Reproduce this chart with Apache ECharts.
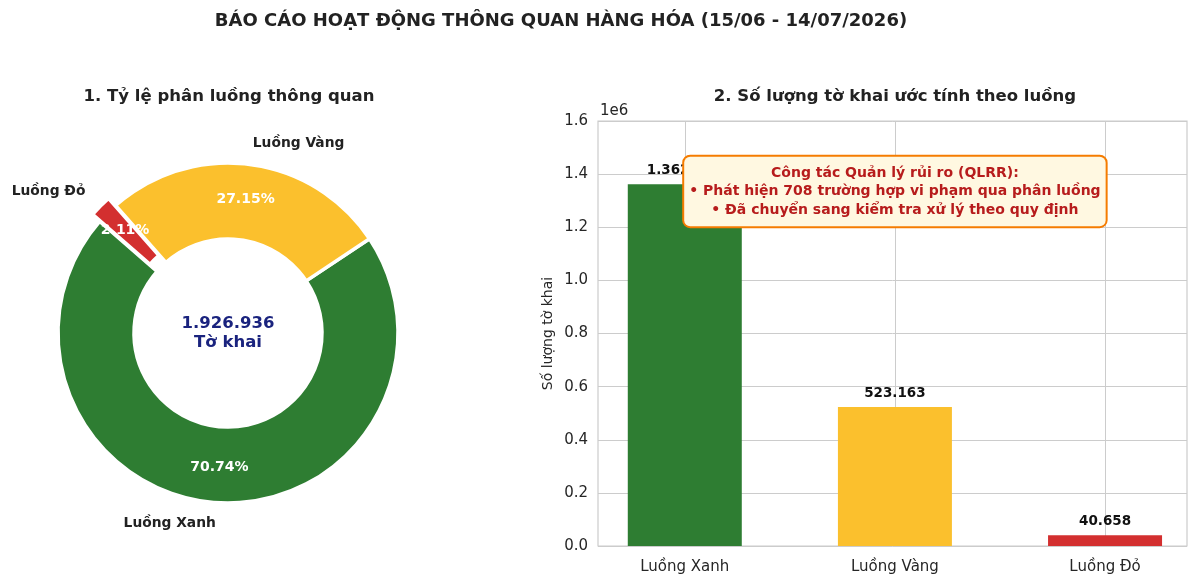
<!DOCTYPE html>
<html>
<head>
<meta charset="utf-8">
<script src="https://cdn.jsdelivr.net/npm/echarts@6/dist/echarts.min.js"></script>
<style>
html,body{margin:0;padding:0;background:#fff;}
#chart{width:1200px;height:586px;}
</style>
</head>
<body>
<div id="chart"></div>
<script>
// ---- data ----
const categories = ['Luồng Xanh', 'Luồng Vàng', 'Luồng Đỏ'];
const sharePct = [70.74, 27.15, 2.11];
const counts = [1362115, 523163, 40658];
const totalDeclarations = 1926936;
const totalUnit = 'Tờ khai';
const yTicks = [0, 200000, 400000, 600000, 800000, 1000000, 1200000, 1400000, 1600000];
const qlrrNotes = [
  'Công tác Quản lý rủi ro (QLRR):',
  '• Phát hiện 708 trường hợp vi phạm qua phân luồng',
  '• Đã chuyển sang kiểm tra xử lý theo quy định'
];
const noteAnchor = [1, 1335000];
const explodedIndex = 2;

// ---- styles ----
const colors = ['#2e7d32', '#fbc02d', '#d32f2f'];
const FONT = 'DejaVu Sans';
const fmt = n => String(n).replace(/\B(?=(\d{3})+(?!\d))/g, '.');

const pieCenter = [228, 333];
const pieRadius = [94, 170];
const startAngle = 139;
const explodeOffset = 10;

const pieData = categories.map((c, i) => ({
  name: c, value: sharePct[i], selected: i === explodedIndex,
  itemStyle: { color: colors[i] }
}));
const pieNameData = categories.map((c, i) => ({
  name: c, value: sharePct[i], selected: i === explodedIndex
}));

const option = {
  animation: false,
  backgroundColor: '#ffffff',
  textStyle: { fontFamily: FONT },
  title: [
    { text: 'BÁO CÁO HOẠT ĐỘNG THÔNG QUAN HÀNG HÓA (15/06 - 14/07/2026)',
      left: 561, top: 12, textAlign: 'center', padding: 0,
      textStyle: { fontFamily: FONT, fontSize: 18, fontWeight: 'bold', color: '#222' } },
    { text: '1. Tỷ lệ phân luồng thông quan', left: 229, top: 88, textAlign: 'center', padding: 0,
      textStyle: { fontFamily: FONT, fontSize: 16.5, fontWeight: 'bold', color: '#222' } },
    { text: '2. Số lượng tờ khai ước tính theo luồng', left: 895, top: 88, textAlign: 'center', padding: 0,
      textStyle: { fontFamily: FONT, fontSize: 16.5, fontWeight: 'bold', color: '#222' } },
    { text: '1e6', left: 600, top: 104, padding: 0,
      textStyle: { fontFamily: FONT, fontSize: 15, fontWeight: 'normal', color: '#262626' } }
  ],
  grid: { left: 598, right: 13, top: 121, bottom: 40, show: true, borderColor: '#cccccc', borderWidth: 1.2, containLabel: false },
  xAxis: {
    type: 'value', min: -0.413, max: 2.39,
    axisLine: { show: false },
    axisTick: { show: false, customValues: [0, 1, 2] },
    axisLabel: { customValues: [0, 1, 2], formatter: v => categories[Math.round(v)] || '',
      fontFamily: FONT, fontSize: 15, color: '#262626', margin: 14 },
    splitLine: { show: true, lineStyle: { color: '#cccccc', width: 1 } }
  },
  yAxis: {
    type: 'value', min: yTicks[0], max: yTicks[yTicks.length - 1], interval: yTicks[1] - yTicks[0],
    name: 'Số lượng tờ khai', nameLocation: 'middle', nameGap: 43, nameRotate: 90,
    nameTextStyle: { fontFamily: FONT, fontSize: 14, color: '#262626' },
    axisLine: { show: false }, axisTick: { show: false },
    axisLabel: { formatter: v => (v / 1e6).toFixed(1), fontFamily: FONT, fontSize: 15, color: '#262626', margin: 10 },
    splitLine: { show: true, lineStyle: { color: '#cccccc', width: 1 } }
  },
  series: [
    {
      type: 'pie', center: pieCenter, radius: pieRadius, startAngle: startAngle, clockwise: false,
      selectedMode: 'single', selectedOffset: explodeOffset, avoidLabelOverlap: false, silent: true,
      itemStyle: { borderColor: '#ffffff', borderWidth: 3.5 },
      label: { show: true, position: 'inside', formatter: p => p.value.toFixed(2) + '%',
        color: '#ffffff', fontFamily: FONT, fontSize: 14, fontWeight: 'bold' },
      labelLine: { show: false },
      data: pieData
    },
    {
      type: 'pie', center: pieCenter, radius: pieRadius, startAngle: startAngle, clockwise: false,
      selectedMode: 'single', selectedOffset: explodeOffset, avoidLabelOverlap: false, silent: true,
      itemStyle: { color: 'rgba(0,0,0,0)', borderWidth: 0 },
      label: { show: true, position: 'outside', formatter: '{b}', distanceToLabelLine: 0,
        color: '#222', fontFamily: FONT, fontSize: 13.8, fontWeight: 'bold' },
      labelLine: { show: false, length: 21, length2: 0 },
      data: pieNameData
    },
    {
      type: 'pie', center: pieCenter, radius: [0, 1], silent: true,
      itemStyle: { color: 'rgba(0,0,0,0)' },
      label: { show: true, position: 'center', formatter: p => fmt(p.value) + '\n' + totalUnit,
        color: '#1a237e', fontFamily: FONT, fontSize: 16.5, fontWeight: 'bold', lineHeight: 19 },
      labelLine: { show: false },
      data: [{ name: totalUnit, value: totalDeclarations }]
    },
    {
      type: 'bar', barWidth: 114,
      data: counts.map((v, i) => ({ value: [i, v], itemStyle: { color: colors[i] } })),
      label: { show: true, position: 'top', distance: 7, formatter: p => fmt(p.value[1]),
        color: '#111', fontFamily: FONT, fontSize: 13.5, fontWeight: 'bold' },
      markPoint: {
        z: 10, silent: true,
        symbol: 'rect', symbolSize: 1, itemStyle: { color: 'rgba(0,0,0,0)' },
        label: {
          show: true, position: 'inside', formatter: qlrrNotes.join('\n'),
          align: 'center', verticalAlign: 'middle',
          color: '#b71c1c', fontFamily: FONT, fontSize: 14, fontWeight: 'bold', lineHeight: 18.5,
          backgroundColor: '#fff8e1', borderColor: '#f57c00', borderWidth: 2, borderRadius: 6,
          padding: [7, 5, 7, 5]
        },
        data: [{ coord: noteAnchor }]
      }
    }
  ]
};

const chart = echarts.init(document.getElementById('chart'), null, { renderer: 'canvas' });
chart.setOption(option);
</script>
</body>
</html>
